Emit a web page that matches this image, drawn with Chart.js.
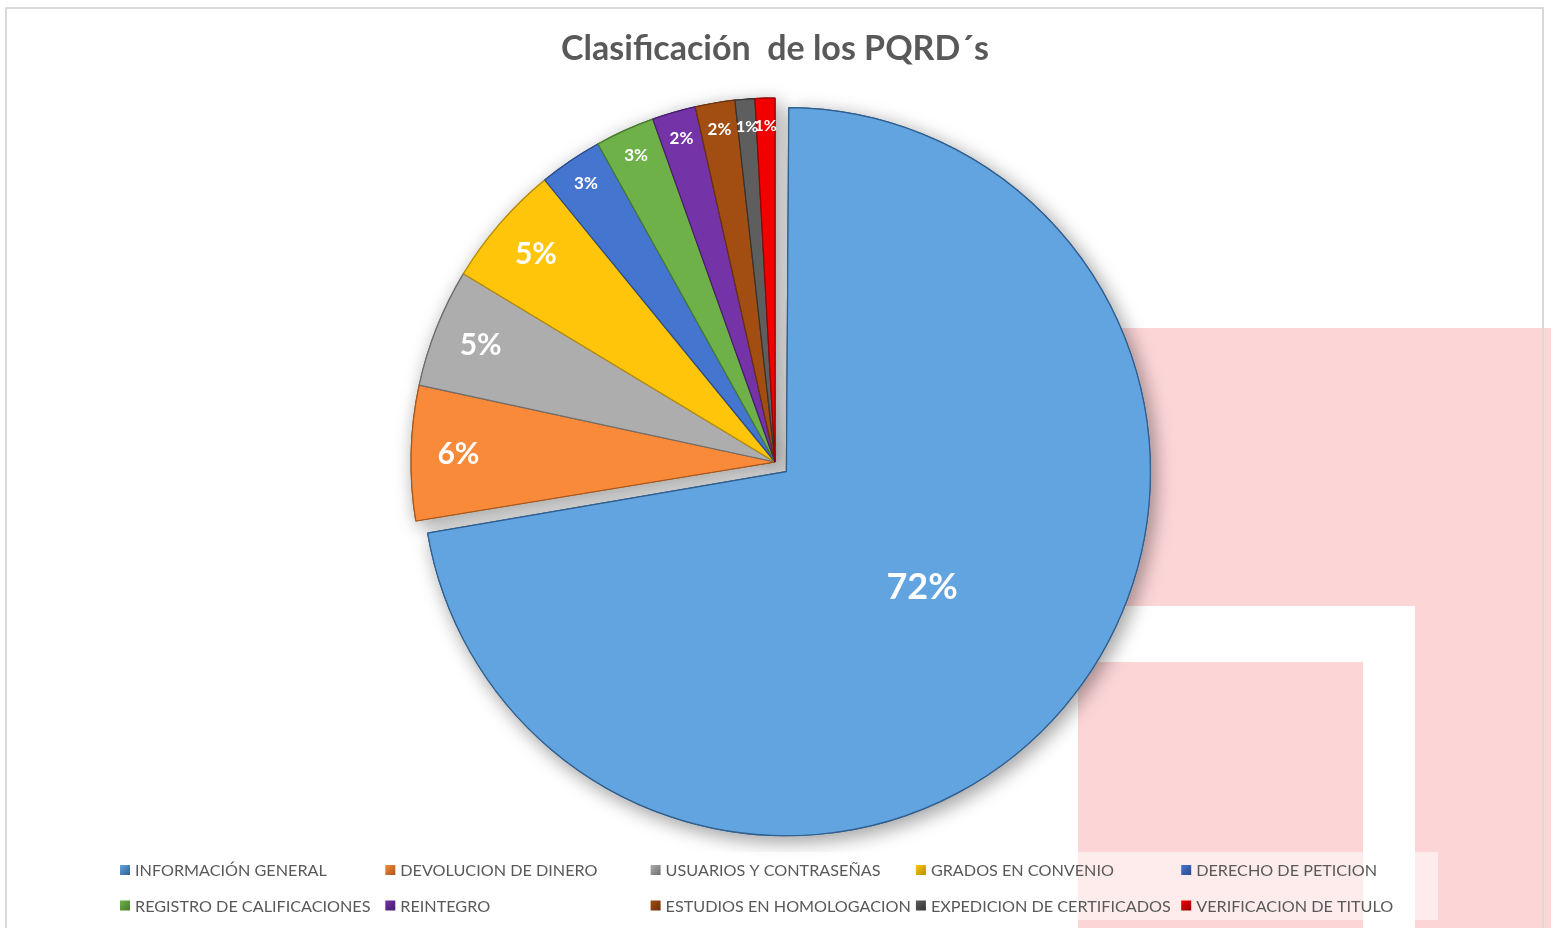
<!DOCTYPE html>
<html>
<head>
<meta charset="utf-8">
<script src="https://cdn.jsdelivr.net/npm/chart.js@4.4.1/dist/chart.umd.min.js"></script>
<style>
  html, body { margin:0; padding:0; background:#ffffff; width:1551px; height:928px; overflow:hidden; }
  .deco { position:absolute; background:#fcd5d7; }
  #frame { position:absolute; left:5px; top:7px; width:1539px; height:930px; border:2px solid #d9d9d9; box-sizing:border-box; }
  #wrap { position:absolute; left:0; top:0; width:1551px; height:928px; }
</style>
</head>
<body>
<div class="deco" style="left:1078px; top:328px; width:473px; height:278px;"></div>
<div class="deco" style="left:1415px; top:606px; width:136px; height:322px;"></div>
<div class="deco" style="left:1078px; top:662px; width:285px; height:266px;"></div>
<div id="frame"></div>
<div id="wrap"><canvas id="c" width="1551" height="928"></canvas></div>
<script>
const categories = [
  "INFORMACIÓN GENERAL", "DEVOLUCION DE DINERO", "USUARIOS Y CONTRASEÑAS",
  "GRADOS EN CONVENIO", "DERECHO DE PETICION", "REGISTRO DE CALIFICACIONES",
  "REINTEGRO", "ESTUDIOS EN HOMOLOGACION", "EXPEDICION DE CERTIFICADOS",
  "VERIFICACION DE TITULO"
];
const values = [412, 34, 30, 31, 16, 15, 11, 10, 5, 5];
const explode = [60, 0, 0, 0, 0, 0, 0, 0, 0, 0];
const colors = ["#62a4e0", "#f98a3a", "#adadad", "#ffc50a", "#4576cf", "#6eb149", "#7434a8", "#a24e13", "#5e5e5e", "#f20000"];
const edgeColors = ["#2f5f8f", "#a8561a", "#6e6e6e", "#b88c00", "#2a4c8c", "#477a2c", "#4a1d70", "#6b300a", "#333333", "#9a0000"];
const titleText = "Clasificación  de los PQRD´s";

// Chart.js grows an offset arc's radius by offset/4; keep the exploded slice the same size.
const keepRadiusPlugin = {
  id: 'keepRadius',
  afterDatasetUpdate(chart, args) {
    args.meta.data.forEach(arc => {
      const o = (arc.options && arc.options.offset || 0) / 4;
      if (o) arc.outerRadius = arc.outerRadius - o;
    });
  }
};

const shadowPlugin = {
  id: 'pieShadow',
  beforeDatasetsDraw(chart) {
    const ctx = chart.ctx;
    const meta = chart.getDatasetMeta(0);
    ctx.save();
    ctx.shadowColor = 'rgba(0,0,0,0.4)';
    ctx.shadowBlur = 20;
    ctx.shadowOffsetX = 4;
    ctx.shadowOffsetY = 5;
    meta.data.forEach(a => a.draw(ctx));
    ctx.restore();
  }
};

const labelPlugin = {
  id: 'pctLabels',
  afterDatasetsDraw(chart) {
    const ctx = chart.ctx;
    const meta = chart.getDatasetMeta(0);
    const total = values.reduce((s, v) => s + v, 0);
    ctx.save();
    ctx.fillStyle = '#ffffff';
    ctx.textAlign = 'center';
    ctx.textBaseline = 'middle';
    meta.data.forEach((arc, i) => {
      const p = arc.getProps(['x', 'y', 'startAngle', 'endAngle', 'outerRadius']);
      const share = values[i] / total;
      const mid = (p.startAngle + p.endAngle) / 2;
      const shift = (arc.options.offset || 0) / 4;
      const cx = p.x + Math.cos(mid) * shift;
      const cy = p.y + Math.sin(mid) * shift;
      let frac, size;
      if (share > 0.5) { frac = 0.51; size = 36; }
      else if (share > 0.04) { frac = 0.87; size = 30; }
      else { frac = 0.925; size = share > 0.012 ? 17 : 16; }
      const x = cx + Math.cos(mid) * p.outerRadius * frac;
      const y = cy + Math.sin(mid) * p.outerRadius * frac;
      ctx.font = 'bold ' + size + 'px Lato, "Open Sans", sans-serif';
      ctx.fillText(Math.round(share * 100) + '%', x, y);
    });
    ctx.restore();
  }
};

const legendPlugin = {
  id: 'gridLegend',
  afterDraw(chart) {
    const ctx = chart.ctx;
    ctx.save();
    ctx.fillStyle = 'rgba(255,255,255,0.55)';
    ctx.fillRect(112, 852, 1326, 68);
    ctx.font = '16.2px Lato, "Open Sans", sans-serif';
    ctx.textBaseline = 'middle';
    ctx.textAlign = 'left';
    categories.forEach((name, i) => {
      const col = i % 5, row = Math.floor(i / 5);
      const x = 120 + col * 265.3;
      const y = 870 + row * 35.5;
      const g = ctx.createLinearGradient(x, y - 5, x + 10, y + 5);
      g.addColorStop(0, colors[i]);
      g.addColorStop(1, edgeColors[i]);
      ctx.fillStyle = g;
      ctx.fillRect(x, y - 5, 10, 10);
      ctx.fillStyle = '#595959';
      ctx.fillText(name, x + 15, y + 1);
    });
    ctx.restore();
  }
};

new Chart(document.getElementById('c'), {
  type: 'pie',
  data: {
    labels: categories,
    datasets: [{
      data: values,
      backgroundColor: colors,
      borderColor: edgeColors,
      borderWidth: 1.2,
      offset: explode,
      radius: 364
    }]
  },
  options: {
    responsive: false,
    animation: false,
    radius: 364,
    layout: { padding: { left: 0, right: 1, top: 0, bottom: 73.8 } },
    plugins: {
      legend: { display: false },
      tooltip: { enabled: false },
      title: {
        display: true,
        text: titleText,
        color: '#595959',
        font: { family: 'Lato, "Open Sans", sans-serif', size: 34, weight: 'bold', lineHeight: 1.2 },
        padding: { top: 29, bottom: 0 }
      }
    }
  },
  plugins: [keepRadiusPlugin, shadowPlugin, labelPlugin, legendPlugin]
});
</script>
</body>
</html>
